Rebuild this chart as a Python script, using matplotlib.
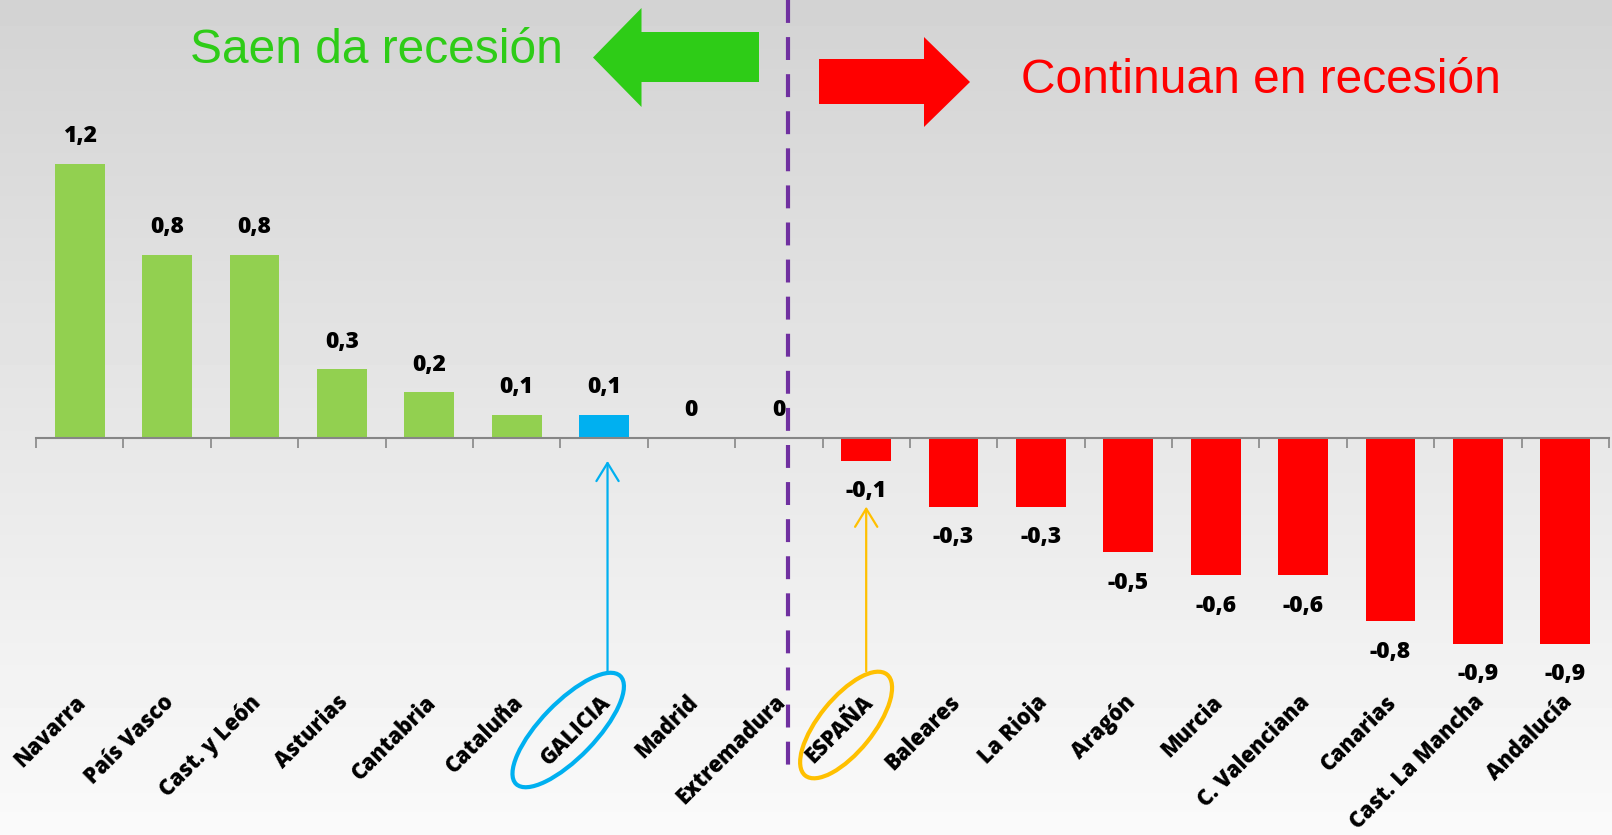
import numpy as np
import matplotlib.pyplot as plt
from matplotlib.patches import Ellipse, Polygon
from matplotlib.transforms import IdentityTransform, blended_transform_factory

regions = ['Navarra', 'País Vasco', 'Cast. y León', 'Asturias', 'Cantabria',
           'Cataluña', 'GALICIA', 'Madrid', 'Extremadura', 'ESPAÑA', 'Baleares',
           'La Rioja', 'Aragón', 'Murcia', 'C. Valenciana', 'Canarias',
           'Cast. La Mancha', 'Andalucía']
values = [1.2, 0.8, 0.8, 0.3, 0.2, 0.1, 0.1, 0, 0, -0.1, -0.3, -0.3,
          -0.5, -0.6, -0.6, -0.8, -0.9, -0.9]
highlight = 'GALICIA'
national = 'ESPAÑA'
title_left = 'Saen da recesión'
title_right = 'Continuan en recesión'

W, H = 1612, 835
fig = plt.figure(figsize=(W / 100, H / 100), dpi=100)

# grey gradient behind everything
bg = fig.add_axes([0, 0, 1, 1], zorder=-1)
grad = np.linspace(250, 211, 256).reshape(-1, 1) / 255
bg.imshow(grad, cmap='gray', vmin=0, vmax=1, aspect='auto', origin='lower',
          extent=[0, 1, 0, 1])
bg.axis('off')

ax = fig.add_axes([36 / W, 0, 1573 / W, 1])
ax.patch.set_alpha(0)
x = np.arange(len(regions))
colors = []
for r, v in zip(regions, values):
    if r == highlight:
        colors.append('#00b0f0')
    elif v >= 0:
        colors.append('#92d050')
    else:
        colors.append('#ff0000')
ax.bar(x, values, width=0.57, color=colors, zorder=2)
ax.set_xlim(-0.5, len(regions) - 0.5)
ax.set_ylim(-1.7355, 1.915)

for s in ['top', 'right', 'left']:
    ax.spines[s].set_visible(False)
ax.spines['bottom'].set_position(('data', 0))
ax.spines['bottom'].set_color('#868686')
ax.spines['bottom'].set_linewidth(1.5)
ax.set_xticks(np.arange(-0.5, len(regions), 1))
ax.set_xticklabels([])
ax.tick_params(axis='x', direction='out', length=7, width=1.2, color='#868686')
ax.set_yticks([])

# value labels
for i, v in enumerate(values):
    txt = ('%g' % v).replace('.', ',')
    off = 20 if v >= 0 else -22
    ax.annotate(txt, (i, v), xytext=(0, off), textcoords='offset points',
                ha='center', va='center', fontsize=16.5, fontweight=800,
                family='Open Sans')

# category labels
trans = blended_transform_factory(ax.transData, ax.transAxes)
for i, r in enumerate(regions):
    ax.text(i - 0.06, 0.173, r, transform=trans, rotation=45,
            rotation_mode='anchor', ha='right', va='top', fontsize=15.5,
            fontweight=800, family='Open Sans')

# divider
div_x = 8.1
ax.plot([div_x, div_x], [1.915, -1.4645], color='#7030a0', lw=3,
        ls=(0, (5.5, 3.4)), zorder=3)

# arrows to highlighted labels
gi = regions.index(highlight)
ei = regions.index(national)
style = '->,head_length=1.3,head_width=0.8'
ax.annotate('', xy=(gi + 0.04, -0.1), xytext=(gi + 0.04, -1.03),
            arrowprops=dict(arrowstyle=style, color='#00b0f0', lw=1.6,
                            shrinkA=0, shrinkB=0))
ax.annotate('', xy=(ei, -0.3), xytext=(ei, -1.02),
            arrowprops=dict(arrowstyle=style, color='#ffc000', lw=1.6,
                            shrinkA=0, shrinkB=0))

cx, cy = ax.transData.transform((gi - 0.41, -1.2765))
ax.add_patch(Ellipse((cx, cy), 150, 55, angle=46, fill=False, ec='#00b0f0',
                     lw=3, transform=IdentityTransform(), clip_on=False))
cx, cy = ax.transData.transform((ei - 0.23, -1.2546))
ax.add_patch(Ellipse((cx, cy), 130, 54, angle=51, fill=False, ec='#ffc000',
                     lw=3, transform=IdentityTransform(), clip_on=False))


def px(xp, yp):
    return (xp / W, 1 - yp / H)


green_arrow = [(593, 57.5), (641.5, 8), (641.5, 32), (759, 32), (759, 82),
               (641.5, 82), (641.5, 107)]
red_arrow = [(970, 82), (924, 37), (924, 59), (819, 59), (819, 104),
             (924, 104), (924, 127)]
fig.patches.append(Polygon([px(*p) for p in green_arrow], closed=True,
                           fc='#2ecc17', ec='none', transform=fig.transFigure))
fig.patches.append(Polygon([px(*p) for p in red_arrow], closed=True,
                           fc='#ff0000', ec='none', transform=fig.transFigure))

fig.text(*px(190, 63), title_left, color='#2ecc17', fontsize=34.5,
         family='Liberation Sans', ha='left', va='baseline')
fig.text(*px(1021, 93), title_right, color='#ff0000', fontsize=34.5,
         family='Liberation Sans', ha='left', va='baseline')

fig.savefig('out.png', dpi=100)
